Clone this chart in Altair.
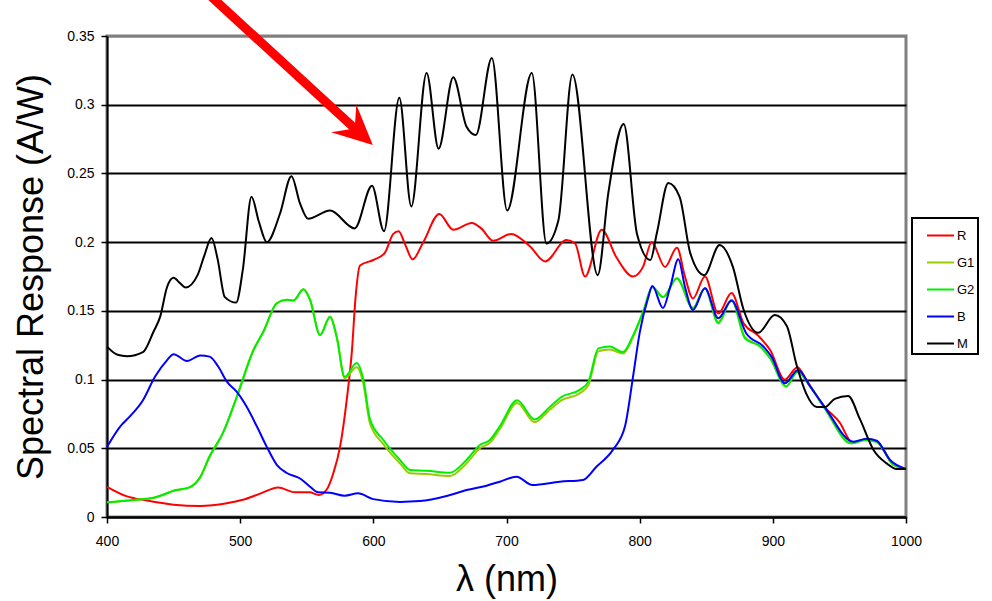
import altair as alt
import pandas as pd

# Spectral response curves (wavelength in nm, response in A/W)
r_wl = [400, 415, 430, 450, 470, 490, 502, 515, 528.5, 541, 552, 559, 565, 570, 575, 580, 584, 586.5, 590,
        600, 608.5, 615, 619, 624, 629.5, 637.5, 649.5, 660, 674, 681, 690, 703.5, 717.5, 729, 745, 751.5,
        759, 771.5, 782.5, 795, 802.5, 809, 819, 828, 834, 840, 849, 859, 869, 878, 889, 898, 909, 918.5,
        925, 939, 950, 960, 970, 978, 983, 990.5, 1000]
r_val = [0.022, 0.015, 0.012, 0.009, 0.008, 0.010, 0.0125, 0.017, 0.0215, 0.018, 0.018, 0.016, 0.020, 0.032,
         0.051, 0.085, 0.122, 0.158, 0.183, 0.187, 0.192, 0.206, 0.208, 0.198, 0.1875, 0.200, 0.2205, 0.209,
         0.214, 0.210, 0.201, 0.206, 0.197, 0.186, 0.2015, 0.199, 0.175, 0.209, 0.189, 0.175, 0.182, 0.200,
         0.182, 0.196, 0.175, 0.159, 0.175, 0.148, 0.163, 0.141, 0.132, 0.1215, 0.100, 0.109, 0.100, 0.080,
         0.069, 0.054, 0.0565, 0.055, 0.049, 0.038, 0.035]

g1_wl = [400, 420, 435, 452, 462, 470, 477, 487, 497.5, 510, 517.5, 527.5, 535, 540, 547.5, 552.5, 560, 567.5,
         572.5, 578.5, 587.5, 592.5, 597.5, 607.5, 620, 627.5, 640, 657.5, 670, 680, 687.5, 695, 708, 721,
         732.5, 741.5, 755, 761.5, 769, 777.5, 787.5, 795, 803, 809.5, 817.5, 828, 840, 849, 859, 869, 879,
         890.5, 898, 910, 918.5, 928, 939, 959, 969, 978, 990.5, 1000]
g1_val = [0.0107, 0.0124, 0.014, 0.0196, 0.0216, 0.029, 0.044, 0.061, 0.0875, 0.1215, 0.135, 0.1555, 0.158,
          0.1575, 0.1657, 0.158, 0.1324, 0.1458, 0.131, 0.101, 0.109, 0.097, 0.068, 0.053, 0.039, 0.0318,
          0.0312, 0.0298, 0.039, 0.050, 0.054, 0.064, 0.083, 0.069, 0.078, 0.085, 0.090, 0.096, 0.1205,
          0.1218, 0.119, 0.131, 0.150, 0.1672, 0.160, 0.1735, 0.152, 0.1664, 0.142, 0.158, 0.131, 0.124,
          0.1155, 0.095, 0.1057, 0.095, 0.079, 0.0536, 0.056, 0.0548, 0.038, 0.035]

g2_wl = [400, 420, 435, 452, 462, 470, 477, 487, 497.5, 510, 517.5, 527.5, 535, 540, 547.5, 552.5, 560, 567.5,
         572.5, 578.5, 587.5, 592.5, 597.5, 607.5, 620, 627.5, 640, 657.5, 670, 680, 687.5, 695, 708, 721,
         732.5, 741.5, 755, 761.5, 769, 777.5, 787.5, 795, 803, 809.5, 817.5, 828, 840, 849, 859, 869, 879,
         890.5, 898, 910, 918.5, 928, 939, 959, 969, 978, 990.5, 1000]
g2_val = [0.0107, 0.0124, 0.014, 0.0196, 0.0216, 0.029, 0.044, 0.061, 0.0875, 0.1215, 0.135, 0.1555, 0.158,
          0.1575, 0.1657, 0.158, 0.1324, 0.1458, 0.131, 0.102, 0.112, 0.100, 0.071, 0.056, 0.0415, 0.0342,
          0.0337, 0.0322, 0.0415, 0.0524, 0.056, 0.066, 0.085, 0.071, 0.080, 0.0875, 0.0925, 0.0985, 0.1227,
          0.124, 0.120, 0.132, 0.1506, 0.1676, 0.160, 0.1737, 0.152, 0.1664, 0.141, 0.158, 0.130, 0.124,
          0.1155, 0.095, 0.1057, 0.095, 0.079, 0.0536, 0.056, 0.0548, 0.038, 0.035]

b_wl = [400, 410, 417, 427, 436, 445, 450, 460, 470, 477, 483.5, 490, 497.5, 505, 512.5, 520, 527.5, 535, 545,
        552.5, 558.5, 567.5, 578.5, 588.5, 600, 620, 635, 655, 670, 685, 695, 707.5, 719.5, 740, 757.5, 767.5,
        780, 789, 795, 800, 806.5, 809.5, 817.5, 823, 829, 834, 840, 849, 859, 869, 880, 893, 899, 909, 919,
        928, 939, 960.5, 970.5, 978, 988, 1000]
b_val = [0.051, 0.066, 0.073, 0.085, 0.102, 0.114, 0.1185, 0.1135, 0.1175, 0.1167, 0.1095, 0.0985, 0.091,
         0.080, 0.066, 0.051, 0.038, 0.032, 0.028, 0.022, 0.018, 0.0177, 0.0155, 0.0172, 0.013, 0.011, 0.0116,
         0.0153, 0.0196, 0.0228, 0.0257, 0.0293, 0.0233, 0.0257, 0.027, 0.0366, 0.049, 0.066, 0.102, 0.134,
         0.160, 0.168, 0.152, 0.1676, 0.1875, 0.1676, 0.1506, 0.1664, 0.1446, 0.1574, 0.1337, 0.124, 0.1167,
         0.0973, 0.107, 0.095, 0.080, 0.0548, 0.057, 0.0555, 0.0415, 0.035]

m_wl = [400, 408, 415, 427, 435, 440, 445, 450, 455, 459, 468, 473, 478.5, 483, 488.5, 497, 502, 508.5, 514,
        520, 530, 538.5, 545, 551, 567.5, 586, 599, 608, 619.5, 628.5, 640, 649, 660, 670, 677, 689, 700.5,
        719, 730, 739, 749.5, 768.5, 776.5, 788, 798, 808, 813, 821.5, 830, 838, 848.5, 860, 870, 878, 889,
        901.5, 910.5, 918, 925, 933, 939, 946.5, 956.5, 965.5, 975.5, 985.5, 993, 1000]
m_val = [0.124, 0.118, 0.117, 0.120, 0.135, 0.146, 0.167, 0.174, 0.170, 0.167, 0.176, 0.190, 0.203, 0.188,
         0.160, 0.156, 0.180, 0.233, 0.215, 0.200, 0.221, 0.248, 0.228, 0.217, 0.223, 0.210, 0.241, 0.208,
         0.305, 0.226, 0.323, 0.268, 0.320, 0.284, 0.278, 0.334, 0.223, 0.323, 0.199, 0.216, 0.322, 0.176,
         0.236, 0.286, 0.206, 0.187, 0.207, 0.243, 0.233, 0.192, 0.176, 0.198, 0.182, 0.151, 0.134, 0.147,
         0.139, 0.110, 0.090, 0.080, 0.080, 0.086, 0.088, 0.071, 0.049, 0.039, 0.035, 0.035]

series_names = ["R", "G1", "G2", "B", "M"]
series_colors = ["#ff0000", "#99cc00", "#00ee00", "#0000ff", "#000000"]
series_data = [(r_wl, r_val), (g1_wl, g1_val), (g2_wl, g2_val), (b_wl, b_val), (m_wl, m_val)]

x_ticks = [400, 500, 600, 700, 800, 900, 1000]
y_ticks = [0, 0.05, 0.1, 0.15, 0.2, 0.25, 0.3, 0.35]

# Pointer arrow: shaft from tail to head, head centre and heading
arrow_wl = [478.5, 588.5]
arrow_val = [0.3784, 0.2805]
arrow_heading = 132.4

rows = []
for order, (name, (wls, vals)) in enumerate(zip(series_names, series_data)):
    for w, v in zip(wls, vals):
        rows.append({"series": name, "order": order, "wl": w, "resp": v})
df = pd.DataFrame(rows)

x_scale = alt.Scale(domain=[400, 1000], nice=False, zero=False)
y_scale = alt.Scale(domain=[0, 0.35], nice=False)

x_enc = alt.X("wl:Q", scale=x_scale, title="λ (nm)",
              axis=alt.Axis(values=x_ticks, format="d", grid=False, labelFlush=False,
                            domainColor="black", domainWidth=2,
                            tickColor="black", tickWidth=1.5, tickSize=6, labelFontSize=14,
                            labelColor="black", labelPadding=11, titleFontSize=36,
                            titleFontWeight="normal", titleColor="black", titlePadding=14))
y_enc = alt.Y("resp:Q", scale=y_scale, title="Spectral Response (A/W)",
              axis=alt.Axis(values=y_ticks, format="~g", domainColor="black", domainWidth=2,
                            labelFlush=False,
                            tickColor="black", tickWidth=1.5, tickSize=6, labelFontSize=14,
                            labelColor="black", labelPadding=7,
                            grid=True, gridWidth=2,
                            gridColor={"condition": {"test": "datum.value >= 0.349", "value": "#808080"},
                                       "value": "black"},
                            titleFontSize=36, titleFontWeight="normal", titleColor="black",
                            titlePadding=16))

lines = alt.Chart(df).mark_line(strokeWidth=2, interpolate="monotone").encode(
    x=x_enc,
    y=y_enc,
    color=alt.Color("series:N",
                    scale=alt.Scale(domain=series_names, range=series_colors),
                    sort=series_names,
                    legend=alt.Legend(title=None, orient="none", legendX=805, legendY=182,
                                      symbolType="stroke", symbolStrokeWidth=2, symbolSize=729,
                                      symbolOffset=11, labelFontSize=13, labelColor="black",
                                      labelExpr="datum.label + '\u00a0\u00a0'",
                                      rowPadding=5, padding=3, strokeColor="black",
                                      fillColor="white", labelOffset=2)),
    order=alt.Order("order:Q"),
    detail="series:N",
)

arrow_df = pd.DataFrame({"wl": arrow_wl, "resp": arrow_val})
shaft = alt.Chart(arrow_df).mark_line(color="#ff0000", strokeWidth=9, strokeCap="butt").encode(
    x=alt.X("wl:Q", scale=x_scale), y=alt.Y("resp:Q", scale=y_scale))
head = alt.Chart(arrow_df.tail(1)).mark_point(
    shape="M0,-1 L0.935,0.97 L0,0.225 L-0.935,0.97 Z", filled=True, color="#ff0000", opacity=1,
    size=1600, angle=arrow_heading, strokeWidth=0
).encode(x=alt.X("wl:Q", scale=x_scale), y=alt.Y("resp:Q", scale=y_scale))

chart = alt.layer(lines, shaft, head).properties(
    width=799, height=481,
    autosize=alt.AutoSizeParams(type="none"),
    padding={"left": 107, "top": 36, "right": 86, "bottom": 84},
).configure(font="Liberation Sans").configure_view(
    stroke="#808080", strokeWidth=3
).configure_legend(strokeWidth=2)

chart.save("out.html", embed_options={"renderer": "svg", "actions": False})
